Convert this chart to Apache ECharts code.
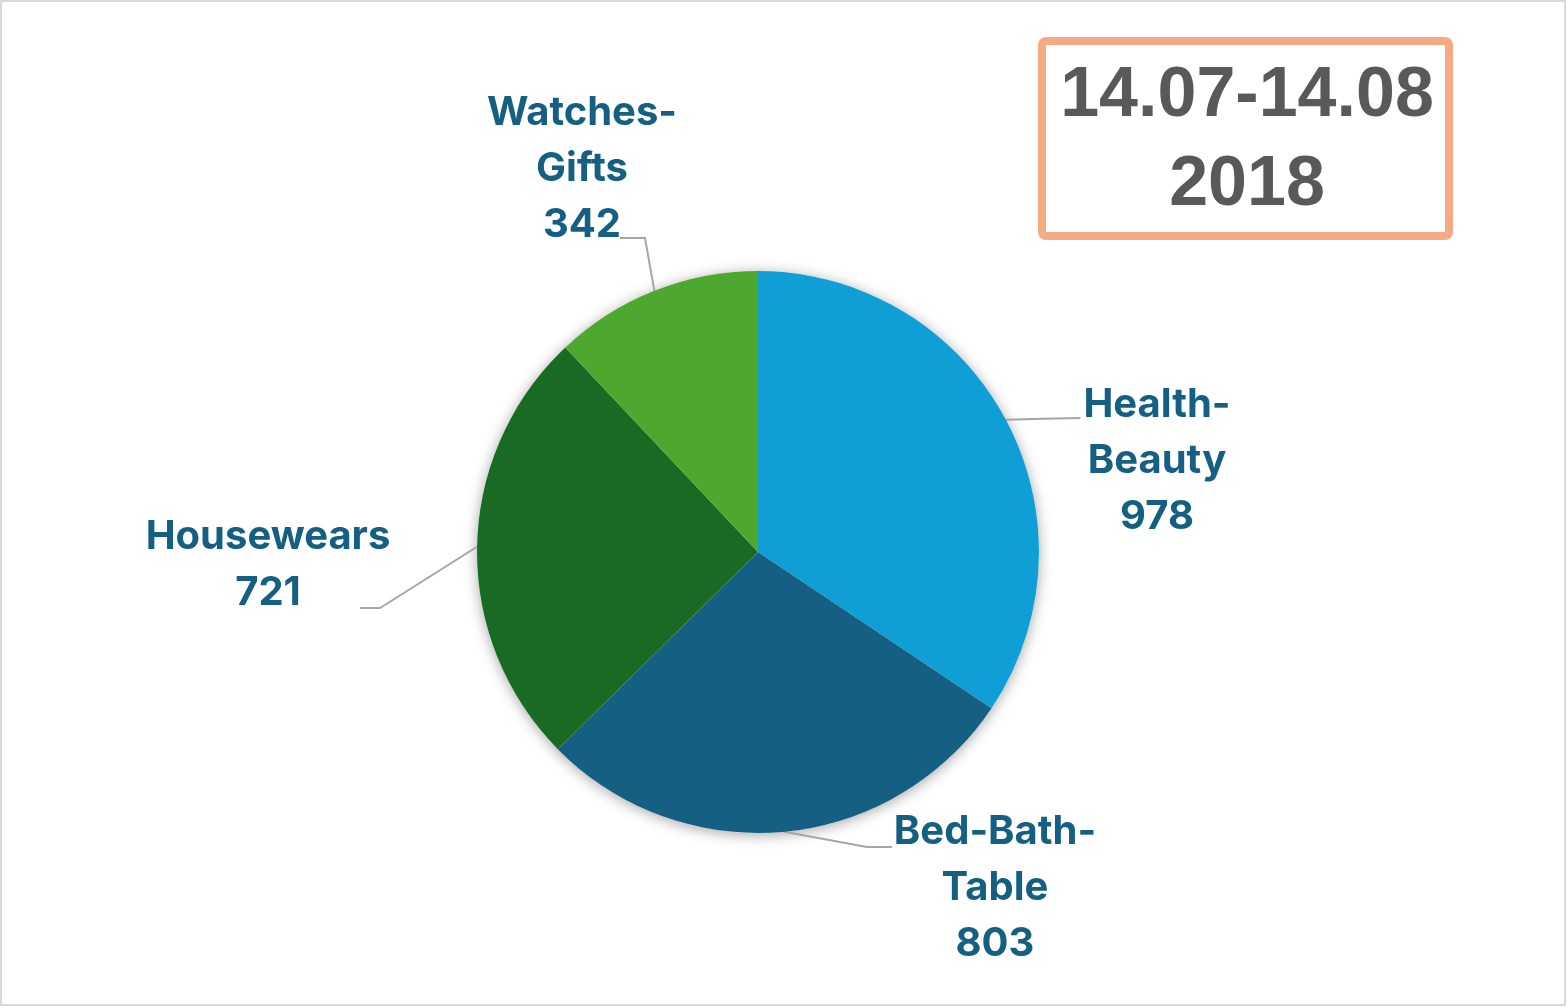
<!DOCTYPE html>
<html>
<head>
<meta charset="utf-8">
<script src="https://cdn.jsdelivr.net/npm/echarts@6/dist/echarts.min.js"></script>
<style>
html,body{margin:0;padding:0;background:#fff;}
#chart{width:1567px;height:1008px;}
</style>
</head>
<body>
<div id="chart"></div>
<script>
// ---- data ----
const categories = ['Health-Beauty', 'Bed-Bath-Table', 'Housewears', 'Watches-Gifts'];
const labelNames = ['Health-\nBeauty', 'Bed-Bath-\nTable', 'Housewears', 'Watches-\nGifts'];
const values = [978, 803, 721, 342];
const periodLines = ['14.07-14.08', '2018'];

// ---- styles / layout (not data) ----
const colors = ['#0F9ED5', '#156082', '#196B24', '#4EA72E'];
const labelCenters = [[1157, 461], [995, 888], [268, 565], [582, 169]];

const chart = echarts.init(document.getElementById('chart'), null, {renderer: 'canvas'});

const total = values.reduce((a, b) => a + b, 0);

function leader(idx, p0, cx, cy, w) {
  const left = cx - w / 2;
  let end, mid;
  if (idx === 0) { end = [left - 3, cy - 43]; mid = [(p0[0] + end[0]) / 2, (p0[1] + end[1]) / 2]; }
  else if (idx === 1) { end = [left - 2, cy - 41]; mid = [end[0] - 25, end[1]]; }
  else if (idx === 2) { end = [cx + 92, cy + 43]; mid = [end[0] + 20, end[1]]; }
  else { end = [cx + 38, cy + 69]; mid = [end[0] + 25, end[1]]; }
  return [p0, mid, end];
}

const option = {
  backgroundColor: '#ffffff',
  animation: false,
  graphic: [
    {type: 'rect', z: 0, shape: {x: 1, y: 1, width: 1564, height: 1004}, style: {fill: 'none', stroke: '#D9D9D9', lineWidth: 2}},
    {type: 'rect', z: 10, shape: {x: 1042, y: 41, width: 407, height: 195, r: 4}, style: {fill: '#ffffff', stroke: '#F4AB84', lineWidth: 8}},
    {type: 'text', z: 11, x: 1247, y: 141, style: {
      text: periodLines.join('\n'), fontSize: 70, lineHeight: 89, fontWeight: 'bold',
      fontFamily: 'Liberation Sans, Arial, sans-serif', fill: '#595959', align: 'center', verticalAlign: 'middle'}}
  ],
  series: [
    {
      type: 'pie',
      silent: true,
      z: 1,
      center: [758, 552],
      radius: 281,
      label: {show: false},
      labelLine: {show: false},
      itemStyle: {color: '#ffffff', shadowBlur: 14, shadowColor: 'rgba(0,0,0,0.35)', shadowOffsetY: 2},
      data: [{value: total, name: 'total'}]
    },
    {
      type: 'pie',
      z: 2,
      center: [758, 552],
      radius: 281,
      startAngle: 90,
      clockwise: true,
      avoidLabelOverlap: false,
      itemStyle: {borderWidth: 0},
      data: categories.map((c, i) => ({name: c, value: values[i], itemStyle: {color: colors[i]}})),
      label: {
        show: true,
        position: 'outside',
        formatter: p => labelNames[p.dataIndex] + '\n' + p.value,
        color: '#156082',
        fontFamily: 'Inter, Liberation Sans, sans-serif',
        fontWeight: 'bold',
        fontSize: 40,
        lineHeight: 56
      },
      labelLine: {show: true, length: 10, length2: 20, lineStyle: {color: '#A6A6A6', width: 2}},
      labelLayout: function (params) {
        const i = params.dataIndex;
        const c = labelCenters[i];
        const w = params.labelRect.width;
        const p0 = params.labelLinePoints ? params.labelLinePoints[0] : [c[0], c[1]];
        return {
          x: c[0], y: c[1], align: 'center', verticalAlign: 'middle',
          labelLinePoints: leader(i, p0, c[0], c[1], w)
        };
      }
    }
  ]
};
chart.setOption(option);
</script>
</body>
</html>
